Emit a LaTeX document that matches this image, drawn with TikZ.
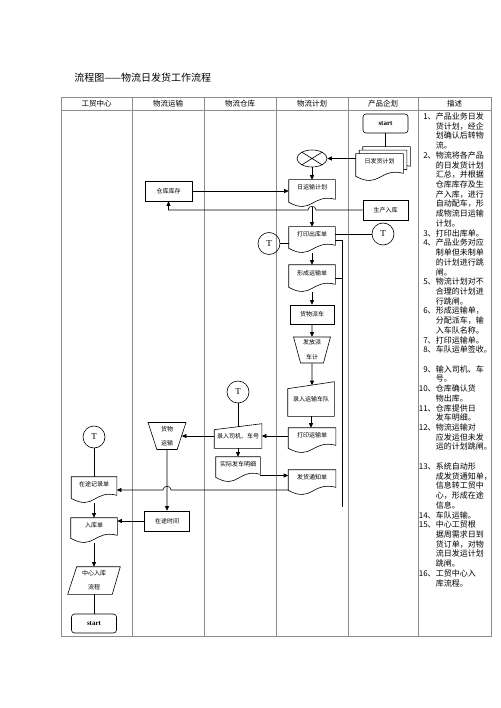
\documentclass[tikz,border=0pt]{standalone}
\usepackage{fontspec}
\setmainfont{Liberation Serif}
\newfontfamily\cjk{Noto Sans CJK SC}
\usetikzlibrary{shapes.geometric,calc,arrows.meta}
\newcommand\docpath[1]{(#1.north west) -- (#1.north east) -- ($(#1.south east)+(0,-8)$) .. controls ($(#1.south)+(0,-14)$) and ($(#1.south)+(0,8)$) .. ($(#1.south west)+(0,-5)$) -- cycle}
\newcommand\dnn[1]{#1\makebox[6.5pt][l]{、}}
\begin{document}
\begin{tikzpicture}[x=1pt,y=-1pt,
  line width=0.6pt,
  arr/.style={-{Triangle[length=4.5pt,width=4pt]}},
  tbl/.style={draw=black!45, line width=0.8pt},
  nfont/.style={font=\cjk\fontsize{6}{7}\selectfont},
  proc/.style={draw, rectangle, inner sep=0pt, nfont},
  docu/.style={inner sep=0pt, nfont, text height=4pt, text depth=11pt},
  minput/.style={inner sep=0pt, nfont},
  term/.style={draw, rounded corners=3pt, inner sep=0pt, font=\bfseries\fontsize{7}{8}\selectfont},
  tc/.style={draw, circle, minimum size=22pt, inner sep=0pt, font=\fontsize{9}{10}\selectfont},
  manop/.style={draw, trapezium, shape border rotate=180, trapezium angle=75, trapezium stretches=true, inner sep=0pt, nfont, align=center},
  hdr/.style={font=\cjk\fontsize{7.5}{8}\selectfont, inner sep=0pt},
  dnum/.style={font=\cjk\fontsize{8}{10}\selectfont, inner sep=0pt, anchor=base east},
  dtxt/.style={font=\cjk\fontsize{8}{10}\selectfont, inner sep=0pt, anchor=base west},
]
\useasboundingbox (0,0) rectangle (500,708);
\fill[white] (0,0) rectangle (500,708);

% title
\node[anchor=west, font=\cjk\fontsize{10}{12}\selectfont, inner sep=0pt] (title) at (74,78) {流程图——物流日发货工作流程};

% table
\draw[tbl] (61,97.5) rectangle (491,636.5);
\draw[tbl] (61,110.5) -- (491,110.5);
\foreach \x in {132,204,276.5,348,418.5} \draw[tbl] (\x,97.5) -- (\x,636.5);
\foreach \x/\t [count=\i] in {96.5/工贸中心,168/物流运输,240/物流仓库,312/物流计划,383/产品企划,454.5/描述}
  \node[hdr] (h\i) at (\x,104) {\t};

% 产品企划
\node[term, minimum width=45pt, minimum height=19pt] (s1) at (385.5,123.5) {start};
\node[docu, minimum width=47pt, minimum height=27pt] (rfhb) at (386.5,160.5) {};
\node[docu, minimum width=47pt, minimum height=27pt] (rfhm) at (383,164) {};
\node[docu, minimum width=47pt, minimum height=27pt] (rfh) at (379.5,167.5) {};
\draw[fill=white] \docpath{rfhb};
\draw[fill=white] \docpath{rfhm};
\draw[fill=white] \docpath{rfh};
\node[docu, minimum width=47pt, minimum height=27pt] (rfht) at (379.5,167.5) {日发货计划};
\draw (s1.south) -- (s1.south |- rfhb.north);
\node[proc, minimum width=45pt, minimum height=20pt] (sc) at (385.5,210) {生产入库};

% 物流计划
\node[draw, ellipse, minimum width=30pt, minimum height=17pt, inner sep=0pt] (hb) at (312,158.5) {};
\draw (hb.32) -- (hb.212) (hb.148) -- (hb.328);
\draw[arr] (rfh.west |- hb.east) -- (hb.east);
\node[docu, minimum width=46pt, minimum height=27pt] (ry) at (312,193.5) {日运输计划};
\draw[arr] (hb) -- (ry);
\node[docu, minimum width=46pt, minimum height=26pt] (dyck) at (312,240) {打印出库单};
\draw[arr] (ry) -- (dyck);
\node[tc] (t1) at (269,243.5) {T};
\node[tc] (t2) at (383,234) {T};
\draw (t1) -- (t1 -| dyck.west);
\draw (dyck.east |- t2) -- (t2);
\node[docu, minimum width=46pt, minimum height=27pt] (xcys) at (312,278.5) {形成运输单};
\draw[arr] (dyck) -- (xcys);
\node[proc, minimum width=44pt, minimum height=19pt] (hwpc) at (312,314.5) {货物派车};
\draw[arr] (xcys) -- (hwpc);
\node[manop, minimum width=37pt, minimum height=26pt] (ffpc) at (312,350) {发放派\\[8pt]车计};
\draw[arr] (hwpc) -- (ffpc);
\node[minput, minimum width=46pt, minimum height=34pt] (lrys) at (311,399) {录入运输车队};
\draw (lrys.south west) -- ($(lrys.north west)+(0,7)$) -- (lrys.north east) -- (lrys.south east) -- cycle;
\draw[arr] (ffpc) -- ($(lrys.north)+(1,3.5)$);
\node[docu, minimum width=47pt, minimum height=25pt] (dyys) at (312,440.5) {打印运输单};
\draw[arr] (lrys.south) -- (lrys.south |- dyys.north);
\node[docu, minimum width=47pt, minimum height=25pt] (fhtz) at (312,482.5) {发货通知单};
% right side lines
\draw (dyck.east) -- ++(7,0) coordinate (rl) |- (xcys.east);
\draw (rl) -- ($(rl |- fhtz.south)+(0,12)$);

% 物流仓库
\node[tc] (t3) at (238,392) {T};
\node[minput, minimum width=47pt, minimum height=24pt] (lrsj) at (238,436) {录入司机、车号};
\draw (lrsj.south west) -- ($(lrsj.north west)+(0,6)$) -- (lrsj.north east) -- (lrsj.south east) -- cycle;
\draw (t3) -- ($(lrsj.north)+(0,3)$);
\draw[arr] (dyys.west |- lrsj) -- (lrsj.east);
\node[docu, minimum width=44pt, minimum height=25pt] (sjfc) at (238,469.5) {实际发车明细};
\draw[arr] (lrsj) -- (sjfc);
\coordinate (c1) at ($(sjfc.east)+(0,6)$);
\draw[arr] (c1) -- (c1 -| fhtz.west);

% 物流运输
\node[proc, minimum width=47pt, minimum height=20pt] (ck) at (168.5,191) {仓库库存};
\draw[arr] (ck.east) -- (ck.east -| ry.west);
\draw[arr] (sc.west) -- ($(sc.west -| dyck.north)+(4,0)$) .. controls +(0,-5) and +(0,-5) .. ($(sc.west -| dyck.north)+(-4,0)$) -- (sc.west -| ck.south) -- (ck.south);
\node[manop, minimum width=38pt, minimum height=27pt] (hwys) at (167,436) {货物\\[7pt]运输};
\draw[arr] (lrsj) -- (hwys);
\node[proc, minimum width=45pt, minimum height=20pt] (ztsj) at (167,521) {在途时间};
\draw[arr] (hwys) -- (ztsj);

% 工贸中心
\node[tc] (t4) at (94,437) {T};
\node[docu, minimum width=45pt, minimum height=26pt] (ztjl) at (94,490) {在途记录单};
\draw (t4) -- (ztjl);
\draw[arr] (fhtz.west |- ztjl) -- ($(hwys |- ztjl)+(4,0)$) .. controls +(0,-5) and +(0,-5) .. ($(hwys |- ztjl)+(-4,0)$) -- (ztjl.east);
\node[docu, minimum width=46pt, minimum height=25pt] (rkd) at (94,530.5) {入库单};
\draw[arr] (ztjl) -- (rkd);
\draw[arr] (ztsj.west) -- (ztsj.west -| rkd.east);
\node[minput, minimum width=52pt, minimum height=27pt, align=center] (zxrk) at (94,580.5) {中心入库\\[7pt]流程};
\draw ($(zxrk.north west)+(9,0)$) -- (zxrk.north east) -- ($(zxrk.south east)+(-8,0)$) -- (zxrk.south west) -- cycle;
\draw[arr] (rkd) -- (zxrk);
\node[term, minimum width=45pt, minimum height=19pt] (s2) at (94,623.5) {start};
\draw (zxrk) -- (s2);

% document outlines
\foreach \n in {ry,dyck,xcys,dyys,fhtz,sjfc,ztjl,rkd} \draw \docpath{\n};

% description
\foreach \n/\t [count=\i] in {
\dnn{1}/产品业务日发, {}/货计划，经企, {}/划确认后转物, {}/流。,
\dnn{2}/物流将各产品, {}/的日发货计划, {}/汇总，并根据, {}/仓库库存及生, {}/产入库，进行, {}/自动配车，形, {}/成物流日运输, {}/计划。,
\dnn{3}/打印出库单。,
\dnn{4}/产品业务对应, {}/制单但未制单, {}/的计划进行跳, {}/闸。,
\dnn{5}/物流计划对不, {}/合理的计划进, {}/行跳闸。,
\dnn{6}/形成运输单，, {}/分配派车，输, {}/入车队名称。,
\dnn{7}/打印运输单。,
\dnn{8}/车队运单签收。,
{}/{},
\dnn{9}/输入司机、车, {}/号。,
\dnn{10}/仓库确认货, {}/物出库。,
\dnn{11}/仓库提供日, {}/发车明细。,
\dnn{12}/物流运输对, {}/应发运但未发, {}/运的计划跳闸。,
{}/{},
\dnn{13}/系统自动形, {}/成发货通知单，, {}/信息转工贸中, {}/心，形成在途, {}/信息。,
\dnn{14}/车队运输。,
\dnn{15}/中心工贸根, {}/据周需求日到, {}/货订单，对物, {}/流日发运计划, {}/跳闸。,
\dnn{16}/工贸中心入, {}/库流程。}
{
  \node[dnum] (dn\i) at (434.5,{119.5+9.72*(\i-1)}) {\n};
  \node[dtxt] (dt\i) at (435.5,{119.5+9.72*(\i-1)}) {\t};
}
\end{tikzpicture}
\end{document}
